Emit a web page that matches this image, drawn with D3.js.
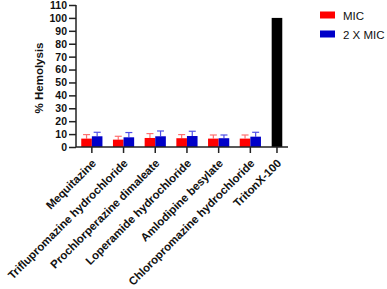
<!DOCTYPE html>
<html><head><meta charset="utf-8">
<script src="https://cdn.jsdelivr.net/npm/d3@7"></script>
<style>body{margin:0;background:#fff}svg{display:block;font-family:"Liberation Sans",Arial,sans-serif}</style>
</head><body>
<svg id="c" width="387" height="289"></svg>
<script>
const categories = ["Mequitazine","Triflupromazine hydrochloride","Prochlorperazine dimaleate","Loperamide hydrochloride","Amlodipine besylate","Chloropromazine hydrochloride","TritonX-100"];
const micValues = [6.5,5.7,7.0,6.8,6.5,6.5,null];
const micErrors = [3.1,2.6,3.4,2.8,2.8,2.8,null];
const mic2Values = [8.3,7.5,8.3,8.5,6.8,8.0,null];
const mic2Errors = [3.1,3.7,4.1,3.7,2.5,3.4,null];
const controlValues = [null,null,null,null,null,null,100];
const yTicks = [0,10,20,30,40,50,60,70,80,90,100,110];
const seriesNames = ["MIC","2 X MIC"];

(function(){
const svg = d3.select("#c");
const mLeft = 76, mRight = 288, mTop = 5, mBottom = 147;
const y = d3.scaleLinear().domain([0,110]).range([mBottom, mTop]);
const drugCats = categories.slice(0,6);
const band = d3.scaleBand().domain(drugCats).range([mLeft, mLeft + 6*31.7]).padding(0);
const step = band.step();
const xc = (c, i) => i < 6 ? band(c) + step/2 : band(drugCats[5]) + step/2 + step*0.84;
const bw = 10.6;

// y axis
const ya = svg.append("g").attr("transform",`translate(${mLeft},0)`)
  .call(d3.axisLeft(y).tickValues(yTicks).tickSize(7).tickPadding(2));
ya.selectAll("text").attr("font-size",10.5).attr("font-weight","bold").attr("fill","#111").attr("font-family","Liberation Sans, Arial");
ya.selectAll("line").attr("stroke","#222").attr("stroke-width",1.5);
ya.select(".domain").attr("stroke","#222").attr("stroke-width",1.5).attr("d",`M0,${mTop}V${mBottom}`);

svg.append("text").attr("transform",`translate(43,${(mTop+mBottom)/2+2}) rotate(-90)`)
  .attr("text-anchor","middle").attr("font-size",11.5).attr("font-weight","bold").attr("fill","#111").text("% Hemolysis");

const colors = {mic:"#ff0000", mic2:"#0000c8", ctrl:"#000000"};
const errColors = {mic:"#ff7070", mic2:"#5050e8"};

function drawBars(vals, errs, color, errColor, offset){
  const g = svg.append("g");
  categories.forEach((c,i)=>{
    const v = vals[i]; if(v==null) return;
    const x0 = xc(c,i) + offset;
    if(errs && errs[i]!=null){
      const cx = x0 + bw/2, yt = y(v+errs[i]);
      g.append("line").attr("x1",cx).attr("x2",cx).attr("y1",y(v)).attr("y2",yt).attr("stroke",errColor).attr("stroke-width",1.2);
      g.append("line").attr("x1",cx-3.5).attr("x2",cx+3.5).attr("y1",yt).attr("y2",yt).attr("stroke",errColor).attr("stroke-width",1.2);
    }
    g.append("rect").attr("x",x0).attr("y",y(v)).attr("width",bw).attr("height",y(0)-y(v)).attr("fill",color);
  });
}
drawBars(micValues, micErrors, colors.mic, errColors.mic, -bw);
drawBars(mic2Values, mic2Errors, colors.mic2, errColors.mic2, 0);
drawBars(controlValues, null, colors.ctrl, null, -bw/2);

// x axis
const xa = svg.append("g");
xa.append("line").attr("x1",mLeft).attr("x2",mRight).attr("y1",mBottom).attr("y2",mBottom).attr("stroke","#222").attr("stroke-width",1.5);
categories.forEach((c,i)=>{
  const x = xc(c,i);
  xa.append("line").attr("x1",x).attr("x2",x).attr("y1",mBottom).attr("y2",mBottom+6).attr("stroke","#222").attr("stroke-width",1.5);
  xa.append("text").attr("transform",`translate(${x+5},${mBottom+17}) rotate(-45)`)
    .attr("text-anchor","end").attr("font-size",11.4).attr("font-weight","bold").attr("fill","#111").text(c);
});

// legend
const lg = svg.append("g");
[colors.mic, colors.mic2].forEach((col,i)=>{
  lg.append("rect").attr("x",320).attr("y",11.5+i*19).attr("width",15).attr("height",7).attr("fill",col);
  lg.append("text").attr("x",343).attr("y",19.5+i*19).attr("font-size",11.5).attr("fill","#111").text(seriesNames[i]);
});
})();
</script>
</body></html>
